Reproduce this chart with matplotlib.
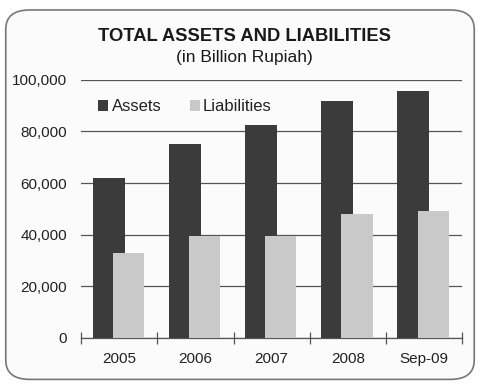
import matplotlib
matplotlib.use("Agg")
import matplotlib.pyplot as plt
from matplotlib.patches import FancyBboxPatch
import numpy as np

categories = ["2005", "2006", "2007", "2008", "Sep-09"]
assets = [62000, 75200, 82500, 91900, 95700]
liabilities = [33000, 39500, 39500, 48000, 49200]
yticks = [0, 20000, 40000, 60000, 80000, 100000]
ytick_labels = ["0", "20,000", "40,000", "60,000", "80,000", "100,000"]

plt.rcParams["font.family"] = ["Liberation Sans", "DejaVu Sans"]

fig = plt.figure(figsize=(4.8, 3.84), dpi=100)
fig.patch.set_facecolor("white")

# rounded frame around the whole chart
frame = FancyBboxPatch((0.012, 0.012), 0.976, 0.962,
                       boxstyle="round,pad=0,rounding_size=0.05",
                       transform=fig.transFigure, facecolor="#fbfbfb",
                       edgecolor="#777777", linewidth=1.2, zorder=-10)
fig.patches.append(frame)

ax = fig.add_axes([0.169, 0.12, 0.794, 0.672])
ax.set_facecolor("none")
ax.set_zorder(2)

x = np.arange(len(categories))
ax.bar(x - 0.14, assets, width=0.42, color="#3b3b3b", zorder=3, label="Assets")
ax.bar(x + 0.12, liabilities, width=0.41, color="#c9c9c9", zorder=4, label="Liabilities")

ax.set_xlim(-0.5, len(categories) - 0.5)
ax.set_ylim(0, 100000)
ax.set_yticks(yticks)
ax.set_yticklabels(ytick_labels, fontsize=11, color="#222222")
ax.tick_params(axis="y", length=0, pad=10)
ax.yaxis.grid(True, color="#555555", linewidth=0.9, zorder=1)

ax.set_xticks(np.arange(-0.5, len(categories), 1.0), minor=False)
ax.set_xticklabels([])
ax.set_xticks(x, minor=True)
ax.set_xticklabels(categories, minor=True, fontsize=11, color="#222222")
ax.tick_params(axis="x", which="major", direction="inout", length=8, width=0.9, color="#555555")
ax.tick_params(axis="x", which="minor", length=0, pad=10)

for s in ["top", "right", "left"]:
    ax.spines[s].set_visible(False)
ax.spines["bottom"].set_color("#555555")
ax.spines["bottom"].set_linewidth(0.9)

leg = ax.legend(loc="center left", bbox_to_anchor=(0.045, 0.895), ncol=2, frameon=False,
                fontsize=12, handlelength=0.6, handleheight=0.6, handletextpad=0.2,
                columnspacing=1.7, borderpad=0, borderaxespad=0)
for t in leg.get_texts():
    t.set_color("#222222")

fig.text(0.51, 0.905, "TOTAL ASSETS AND LIABILITIES", ha="center", va="center",
         fontsize=13.2, fontweight="bold", color="#1a1a1a")
fig.text(0.51, 0.85, "(in Billion Rupiah)", ha="center", va="center",
         fontsize=12.5, color="#1a1a1a")

fig.savefig("out.png", dpi=100)
